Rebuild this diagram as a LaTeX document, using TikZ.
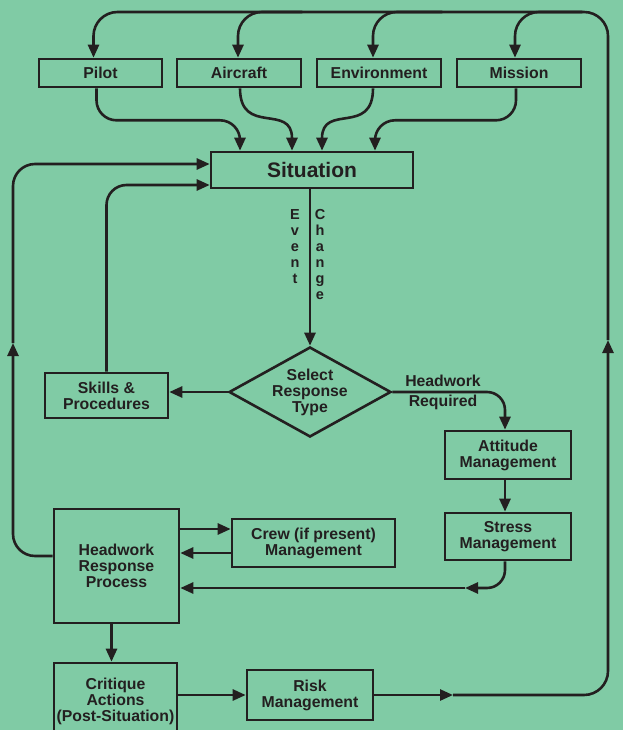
\documentclass[tikz,border=0pt]{standalone}
\usepackage{fontspec}
\setmainfont{Liberation Sans}
\usetikzlibrary{arrows.meta,calc,shapes.geometric}
\definecolor{bg}{HTML}{80CBA5}
\definecolor{ink}{HTML}{231F20}
\begin{document}
\begin{tikzpicture}[x=1pt,y=-1pt,
  box/.style={draw=ink, line width=2.6pt, inner sep=0pt, align=center,
    font=\fontsize{15.8}{16}\selectfont\bfseries, text=ink},
  lbl/.style={inner sep=0pt, align=center, text=ink,
    font=\fontsize{15.8}{16}\selectfont\bfseries},
  vlbl/.style={inner sep=0pt, align=center, text=ink,
    font=\fontsize{14.5}{16}\selectfont\bfseries},
  ln/.style={draw=ink, line width=2.6pt},
  arr/.style={ln, -{Triangle[length=13pt,width=11pt]}}]
\useasboundingbox (0,0) rectangle (623,730);
\fill[bg] (0,0) rectangle (623,730);
\clip (0,0) rectangle (623,730);

% nodes
\node[box, minimum width=123pt, minimum height=28pt] (pilot) at (100.5,73) {Pilot};
\node[box, minimum width=124pt, minimum height=28pt] (air) at (239,73) {Aircraft};
\node[box, minimum width=124pt, minimum height=28pt] (env) at (379,73) {Environment};
\node[box, minimum width=124pt, minimum height=28pt] (mis) at (519,73) {Mission};
\node[box, minimum width=202pt, minimum height=36pt, font=\fontsize{21}{24}\selectfont\bfseries] (sit) at (312,170) {Situation};
\node[draw=ink, line width=2.6pt, diamond, inner sep=0pt, minimum width=162pt, minimum height=90pt] (sel) at (310,392) {};
\node[lbl] (selt) at (sel.center) {Select\\Response\\Type};
\node[box, minimum width=123pt, minimum height=45pt] (skills) at (106.5,395.5) {Skills \&\\Procedures};
\node[box, minimum width=126pt, minimum height=48pt] (att) at (508,455) {Attitude\\Management};
\node[box, minimum width=126pt, minimum height=47pt] (stress) at (508,536.5) {Stress\\Management};
\node[box, minimum width=125pt, minimum height=114pt] (hrp) at (116.5,566) {Headwork\\Response\\Process};
\node[box, minimum width=163pt, minimum height=48pt] (crew) at (313.5,543) {Crew (if present)\\Management};
\node[box, minimum width=123pt, minimum height=76pt] (crit) at (115.5,701) {Critique\\Actions\\(Post-Situation)};
\node[box, minimum width=126pt, minimum height=50pt] (risk) at (310,695) {Risk\\Management};

% labels
\node[vlbl, anchor=north] (ev) at (295,209) {E\\v\\e\\n\\t};
\node[vlbl, anchor=north] (ch) at (320,209) {C\\h\\a\\n\\g\\e};
\node[lbl] (hw) at (443,381) {Headwork};
\node[lbl] (rq) at (443,402) {Required};

% helper coordinates
\coordinate (top) at (608,12);
\coordinate (rmid) at (453,695);
\coordinate (rup) at (608,340);
\coordinate (lmid) at (13,343);
\coordinate (smid) at (465,588);

% feedback into the four inputs
\draw[arr] (risk.east) -- (rmid);
\draw[arr, rounded corners=24pt] (rmid) -| (rup);
\draw[arr, rounded corners=24pt] (rup) -- (top) -| ($(pilot.north)+(-7,0)$);
\draw[arr, rounded corners=24pt] (air.north east |- top) -| ($(air.north)+(-1,0)$);
\draw[arr, rounded corners=24pt] (env.north east |- top) -| ($(env.north)+(-6,0)$);
\draw[arr, rounded corners=24pt] (mis.north east |- top) -| ($(mis.north)+(-4,0)$);

% inputs into situation
\draw[arr, rounded corners=20pt] ($(pilot.south)+(-4,0)$) -- ++(0,32) -| ($(sit.north)+(-72,0)$);
\draw[arr] ($(air.south)+(1,0)$) .. controls +(0,48) and +(0,-48) .. ($(sit.north)+(-20,0)$);
\draw[arr] ($(env.south)+(-6,0)$) .. controls +(0,48) and +(0,-48) .. ($(sit.north)+(10,0)$);
\draw[arr, rounded corners=20pt] ($(mis.south)+(-3,0)$) -- ++(0,32) -| ($(sit.north)+(63,0)$);

% situation to select
\draw[arr] (sel.north |- sit.south) -- (sel.north);
\draw[arr] (sel.west) -- (sel.west -| skills.east);
\draw[arr, rounded corners=20pt] (skills.north) |- ($(sit.west)+(0,15)$);
\draw[arr, rounded corners=18pt] (sel.east) -| ($(att.north)+(-3,0)$);
\draw[arr] ($(att.south)+(-3,0)$) -- ($(stress.north)+(-3,0)$);
\draw[arr, rounded corners=18pt] ($(stress.south)+(-3,0)$) |- (smid);
\draw[arr] (smid) -- (hrp.east |- smid);

% headwork process
\draw[arr] ($(hrp.east)+(0,-37)$) -- (crew.west |- {$(hrp.east)+(0,-37)$});
\draw[arr] ($(crew.west)+(0,10)$) -- (hrp.east |- {$(crew.west)+(0,10)$});
\draw[arr, rounded corners=22pt] ($(hrp.west)+(0,-10)$) -| (lmid);
\draw[arr, rounded corners=22pt] (lmid) |- ($(sit.west)+(0,-6)$);
\draw[arr] ($(hrp.south)+(-5,0)$) -- (crit.north -| {$(hrp.south)+(-5,0)$});
\draw[arr] (crit.east |- risk.west) -- (risk.west);
\end{tikzpicture}
\end{document}
